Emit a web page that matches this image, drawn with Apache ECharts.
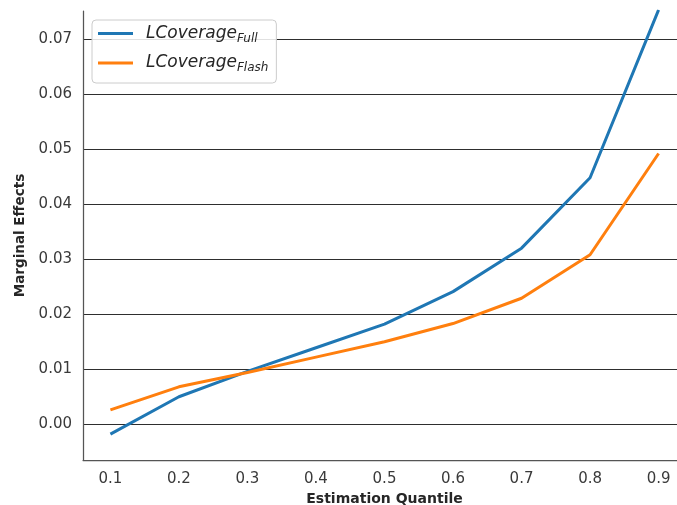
<!DOCTYPE html>
<html>
<head>
<meta charset="utf-8">
<script src="https://cdn.jsdelivr.net/npm/echarts@6/dist/echarts.min.js"></script>
<style>
html,body{margin:0;padding:0;background:#fff;}
#chart{width:677px;height:505px;}
</style>
</head>
<body>
<div id="chart"></div>
<script>
const quantiles = [0.1, 0.2, 0.3, 0.4, 0.5, 0.6, 0.7, 0.8, 0.9];
const coverageFull = [-0.0018, 0.0050, 0.0096, 0.0139, 0.0182, 0.0241, 0.0320, 0.0448, 0.0753];
const coverageFlash = [0.0026, 0.0068, 0.0094, 0.0122, 0.0150, 0.0183, 0.0229, 0.0308, 0.0492];
const seriesNames = ['LCoverage_Full', 'LCoverage_Flash'];
const seriesSubs = ['Full', 'Flash'];

const chart = echarts.init(document.getElementById('chart'), null, {renderer: 'canvas'});
const font = 'DejaVu Sans, sans-serif';

chart.setOption({
  animation: false,
  backgroundColor: '#fff',
  grid: {left: 83, top: 11, right: -9, bottom: 45, outerBoundsMode: 'none', containLabel: false},
  xAxis: {
    type: 'value',
    min: 0.06,
    max: 0.94,
    splitNumber: 9,
    name: 'Estimation Quantile',
    nameLocation: 'middle',
    nameGap: 32,
    nameTextStyle: {fontFamily: font, fontWeight: 'bold', fontSize: 14, color: '#262626'},
    axisLine: {show: true, onZero: false, lineStyle: {color: '#555', width: 1.25}},
    axisTick: {show: false},
    splitLine: {show: false},
    axisLabel: {
      showMinLabel: false, showMaxLabel: false,
      margin: 12, fontFamily: font, fontSize: 15, color: '#3a3a3a',
      formatter: v => v.toFixed(1)
    }
  },
  yAxis: {
    type: 'value',
    min: -0.0065,
    max: 0.0751,
    splitNumber: 8,
    name: 'Marginal Effects',
    nameLocation: 'middle',
    nameGap: 53,
    nameTextStyle: {fontFamily: font, fontWeight: 'bold', fontSize: 13.5, color: '#262626'},
    axisLine: {show: true, onZero: false, lineStyle: {color: '#555', width: 1.25}},
    axisTick: {show: false},
    splitLine: {show: true, showMinLine: false, showMaxLine: false, lineStyle: {color: '#2e2e2e', width: 1.2}},
    axisLabel: {
      showMinLabel: false, showMaxLabel: false,
      margin: 11, fontFamily: font, fontSize: 15, color: '#3a3a3a',
      formatter: v => v.toFixed(2)
    }
  },
  legend: {
    orient: 'vertical',
    left: 92,
    top: 20,
    padding: [5, 8, 9, 6],
    itemGap: 10,
    itemWidth: 35,
    itemHeight: 3,
    icon: 'rect',
    backgroundColor: 'rgba(255,255,255,0.85)',
    borderColor: '#ccc',
    borderWidth: 1,
    borderRadius: 4,
    data: seriesNames,
    formatter: function (name) {
      const i = seriesNames.indexOf(name);
      return '{a|LCoverage}{b|' + seriesSubs[i] + '}';
    },
    textStyle: {
      padding: [0, 0, 0, 8],
      rich: {
        a: {fontFamily: font, fontStyle: 'italic', fontSize: 17, color: '#262626', lineHeight: 22},
        b: {fontFamily: font, fontStyle: 'italic', fontSize: 12, color: '#262626', lineHeight: 22, verticalAlign: 'bottom', padding: [5, 0, 0, 0]}
      }
    }
  },
  series: [
    {
      name: seriesNames[0],
      type: 'line',
      symbol: 'none',
      clip: true,
      data: quantiles.map((q, i) => [q, coverageFull[i]]),
      lineStyle: {color: '#1f77b4', width: 3},
      itemStyle: {color: '#1f77b4'},
      z: 3
    },
    {
      name: seriesNames[1],
      type: 'line',
      symbol: 'none',
      clip: true,
      data: quantiles.map((q, i) => [q, coverageFlash[i]]),
      lineStyle: {color: '#ff7f0e', width: 3},
      itemStyle: {color: '#ff7f0e'},
      z: 3
    }
  ]
});
</script>
</body>
</html>
